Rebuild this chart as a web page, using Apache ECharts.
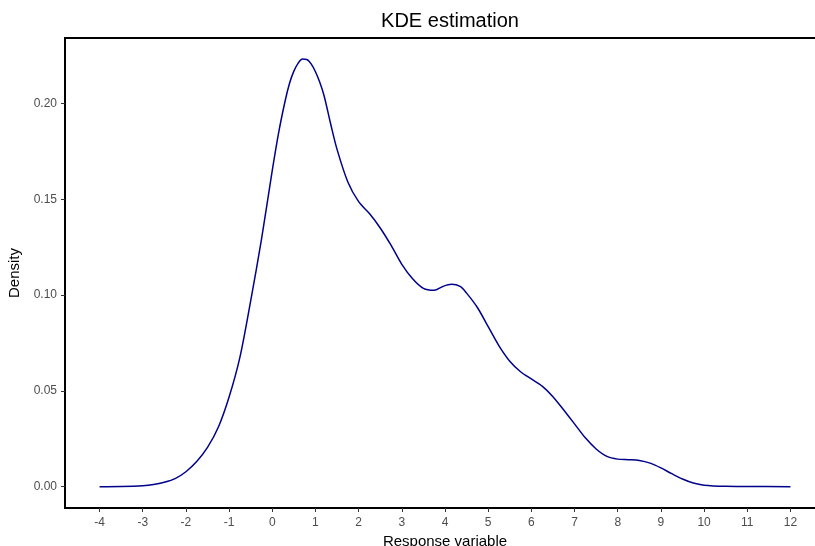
<!DOCTYPE html>
<html>
<head>
<meta charset="utf-8">
<script src="https://cdn.jsdelivr.net/npm/echarts@6/dist/echarts.min.js"></script>
<style>html,body{margin:0;padding:0;background:#fff;}#c{width:815px;height:546px;}</style>
</head>
<body>
<div id="c"></div>
<script>
const xs = [-4,-3.5,-3,-2.75,-2.5,-2.25,-2,-1.75,-1.5,-1.25,-1,-0.75,-0.5,-0.25,0,0.15,0.3,0.4,0.5,0.6,0.7,0.8,0.9,1.0,1.1,1.2,1.35,1.5,1.75,2,2.25,2.5,2.75,3,3.25,3.5,3.75,3.95,4.15,4.35,4.5,4.75,5,5.25,5.5,5.75,6,6.25,6.5,6.75,7,7.25,7.5,7.75,8,8.25,8.5,8.75,9,9.25,9.5,9.75,10,10.5,11,12];
const density = [0,0.0001,0.0005,0.0011,0.0023,0.0042,0.0078,0.0131,0.0205,0.031,0.0468,0.0675,0.097,0.129,0.165,0.185,0.2015,0.2105,0.2168,0.2210,0.2231,0.2229,0.2206,0.2165,0.2110,0.2040,0.1895,0.176,0.159,0.1487,0.1425,0.135,0.126,0.116,0.1085,0.1035,0.1025,0.1045,0.1056,0.1045,0.101,0.0935,0.0835,0.0735,0.0655,0.060,0.0562,0.0525,0.047,0.040,0.0328,0.0255,0.0197,0.0158,0.0144,0.0141,0.0137,0.0123,0.0098,0.0068,0.004,0.0019,0.0008,0.0002,0.0001,0];
const xTicks = [-4,-3,-2,-1,0,1,2,3,4,5,6,7,8,9,10,11,12];
const yTicks = [0,0.05,0.10,0.15,0.20];

const chart = echarts.init(document.getElementById('c'), null, {renderer:'canvas'});
const font = '"Liberation Sans", Arial, sans-serif';
chart.setOption({
  animation: false,
  backgroundColor: '#ffffff',
  title: {
    text: 'KDE estimation', left: 445, top: 6, textAlign: 'center',
    textStyle: {fontFamily: font, fontSize: 20, fontWeight: 'normal', color: '#000'}
  },
  grid: {left: 65, top: 38, width: 760, height: 470, outerBoundsMode: 'none', containLabel: false,
         show: true, borderColor: '#000', borderWidth: 2, backgroundColor: 'transparent'},
  xAxis: {
    type: 'value', min: -4.8, max: 12.8,
    name: 'Response variable', nameLocation: 'middle', nameGap: 23,
    nameTextStyle: {fontFamily: font, fontSize: 15, color: '#000'},
    axisLine: {show: true, onZero: false, lineStyle: {color: '#000', width: 2}},
    axisTick: {show: true, length: 4, lineStyle: {color: '#333', width: 1}, customValues: xTicks},
    axisLabel: {fontFamily: font, fontSize: 12, color: '#4d4d4d', margin: 9, customValues: xTicks, formatter: v => String(v)},
    splitLine: {show: false}
  },
  yAxis: {
    type: 'value', min: -0.0111, max: 0.2341,
    name: 'Density', nameLocation: 'middle', nameGap: 40, nameRotate: 90,
    nameTextStyle: {fontFamily: font, fontSize: 15, color: '#000'},
    axisLine: {show: true, onZero: false, lineStyle: {color: '#000', width: 2}},
    axisTick: {show: true, length: 4, lineStyle: {color: '#333', width: 1}, customValues: yTicks},
    axisLabel: {fontFamily: font, fontSize: 12, color: '#4d4d4d', margin: 8, customValues: yTicks, formatter: v => v.toFixed(2)},
    splitLine: {show: false}
  },
  series: [{
    type: 'line', data: xs.map((x, i) => [x, density[i]]),
    smooth: 0.3, showSymbol: false,
    lineStyle: {color: '#00008B', width: 1.5}
  }]
});
</script>
</body>
</html>
